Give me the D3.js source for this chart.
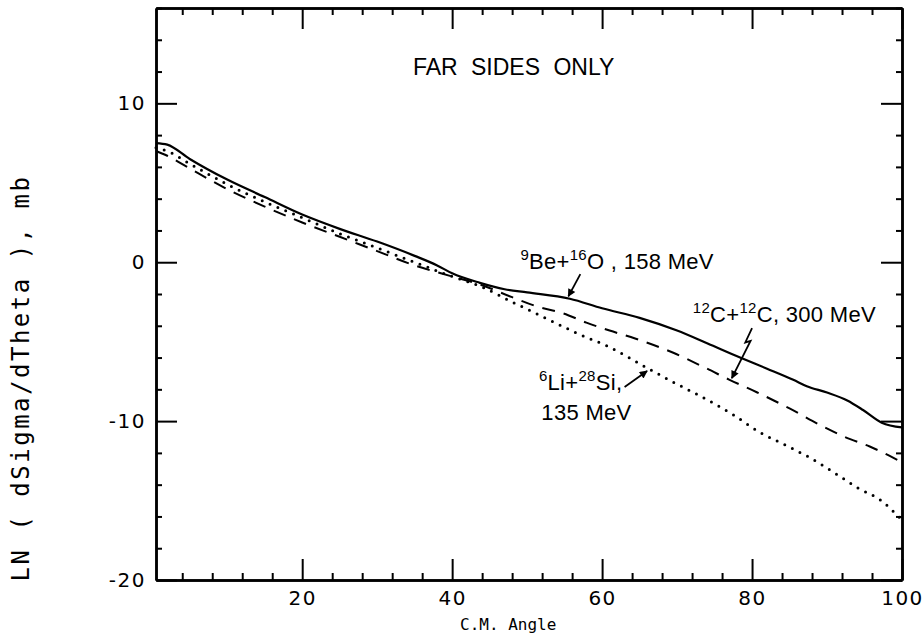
<!DOCTYPE html>
<html>
<head>
<meta charset="utf-8">
<script src="https://cdn.jsdelivr.net/npm/d3@7/dist/d3.min.js"></script>
<style>
  html, body { margin: 0; padding: 0; background: #fff; }
  svg { display: block; }
  .tick text { font-family: "DejaVu Sans", sans-serif; font-size: 20px; letter-spacing: 1.5px; fill: #000; }
  .ann { font-family: "Liberation Sans", Arial, sans-serif; font-size: 22px; letter-spacing: 0.3px; fill: #000; }
</style>
</head>
<body>
<svg id="chart" width="924" height="638"></svg>
<script>
// ---------------- data ----------------
const xMajorTicks = [20, 40, 60, 80, 100];
const xMinorTicks = [4, 8, 12, 16, 24, 28, 32, 36, 44, 48, 52, 56, 64, 68, 72, 76, 84, 88, 92, 96];
const yMajorTicks = [-20, -10, 0, 10];
const yMinorTicks = [-18, -16, -14, -12, -8, -6, -4, -2, 2, 4, 6, 8, 12, 14, 16];

// 9Be + 16O, 158 MeV (solid)
const beAngles = [0.5, 2, 5, 10, 15, 20, 25, 30, 35, 38, 40, 43.7, 47, 50, 55.7, 60, 65, 70, 74, 78.4, 82, 85.5, 87.3, 90, 92.7, 94.8, 97.3, 100];
const beValues = [7.5, 7.4, 6.5, 5.2, 4.1, 3.0, 2.1, 1.3, 0.4, -0.2, -0.7, -1.3, -1.7, -1.9, -2.3, -2.9, -3.5, -4.3, -5.1, -6.0, -6.7, -7.4, -7.8, -8.2, -8.7, -9.3, -10.1, -10.4];

// 12C + 12C, 300 MeV (dashed)
const cAngles = [0.5, 2, 5, 10, 15, 20, 25, 30, 35, 40, 43.7, 48, 51.4, 54.7, 57.9, 61, 64.4, 69.5, 74, 77, 80.7, 85, 89.3, 92.4, 95.7, 98.8, 100];
const cValues = [7.0, 6.7, 5.9, 4.6, 3.5, 2.5, 1.6, 0.7, -0.2, -0.9, -1.4, -2.2, -2.8, -3.2, -3.8, -4.3, -4.8, -5.7, -6.7, -7.4, -8.2, -9.2, -10.3, -11.0, -11.6, -12.3, -12.6];

// 6Li + 28Si, 135 MeV (dotted)
const liAngles = [0.5, 2, 5, 10, 15, 20, 25, 30, 35, 40, 43.7, 48, 52.4, 56.8, 60.8, 66, 69.3, 73, 77.5, 81, 84.4, 87.7, 90.8, 94.1, 97.5, 99.3, 100];
const liValues = [7.2, 7.0, 6.2, 4.9, 3.8, 2.8, 1.8, 0.9, 0.0, -0.9, -1.5, -2.5, -3.5, -4.5, -5.3, -6.65, -7.5, -8.4, -9.6, -10.7, -11.5, -12.3, -13.2, -14.2, -15.1, -15.9, -16.2];

// ---------------- layout ----------------
const svg = d3.select("#chart");
const L = 156, R = 902, T = 8, B = 580;
const x = d3.scaleLinear().domain([0.5, 100]).range([L, R]);
const y = d3.scaleLinear().domain([-20, 16]).range([B, T]);

const fmt = d => String(d);

function styleAxis(g) {
  g.select(".domain").attr("stroke", "#000").attr("stroke-width", 2.5);
  g.selectAll(".tick line").attr("stroke", "#000").attr("stroke-width", 2);
}

// bottom
svg.append("g").attr("transform", `translate(0,${B})`)
  .call(d3.axisBottom(x).tickValues(xMinorTicks).tickSize(-7).tickSizeOuter(0).tickFormat(""))
  .call(styleAxis);
svg.append("g").attr("transform", `translate(0,${B})`)
  .call(d3.axisBottom(x).tickValues(xMajorTicks).tickSize(-21).tickSizeOuter(0).tickPadding(11).tickFormat(fmt))
  .call(styleAxis);
// top
svg.append("g").attr("transform", `translate(0,${T})`)
  .call(d3.axisTop(x).tickValues(xMinorTicks).tickSize(-7).tickSizeOuter(0).tickFormat(""))
  .call(styleAxis);
svg.append("g").attr("transform", `translate(0,${T})`)
  .call(d3.axisTop(x).tickValues(xMajorTicks).tickSize(-21).tickSizeOuter(0).tickFormat(""))
  .call(styleAxis);
// left
svg.append("g").attr("transform", `translate(${L},0)`)
  .call(d3.axisLeft(y).tickValues(yMinorTicks).tickSize(-6).tickSizeOuter(0).tickFormat(""))
  .call(styleAxis);
svg.append("g").attr("transform", `translate(${L},0)`)
  .call(d3.axisLeft(y).tickValues(yMajorTicks).tickSize(-21).tickSizeOuter(0).tickPadding(10).tickFormat(fmt))
  .call(styleAxis);
// right
svg.append("g").attr("transform", `translate(${R},0)`)
  .call(d3.axisRight(y).tickValues(yMinorTicks).tickSize(-6).tickSizeOuter(0).tickFormat(""))
  .call(styleAxis);
svg.append("g").attr("transform", `translate(${R},0)`)
  .call(d3.axisRight(y).tickValues(yMajorTicks).tickSize(-21).tickSizeOuter(0).tickFormat(""))
  .call(styleAxis);

// ---------------- curves ----------------
const line = d3.line().x(d => x(d[0])).y(d => y(d[1])).curve(d3.curveMonotoneX);
const zip = (a, b) => a.map((v, i) => [v, b[i]]);

svg.append("path").datum(zip(liAngles, liValues))
  .attr("d", line).attr("fill", "none").attr("stroke", "#000")
  .attr("stroke-width", 3).attr("stroke-linecap", "round").attr("stroke-dasharray", "0,8.5");
svg.append("path").datum(zip(cAngles, cValues))
  .attr("d", line).attr("fill", "none").attr("stroke", "#000")
  .attr("stroke-width", 2).attr("stroke-dasharray", "13,9");
svg.append("path").datum(zip(beAngles, beValues))
  .attr("d", line).attr("fill", "none").attr("stroke", "#000")
  .attr("stroke-width", 2.2);

// ---------------- texts ----------------
svg.append("text")
  .attr("x", x(48.2)).attr("y", y(11.8))
  .attr("text-anchor", "middle")
  .style("font-family", "'Liberation Sans', Arial, sans-serif").style("font-size", "23px")
  .style("word-spacing", "7px")
  .text("FAR SIDES ONLY");

svg.append("text")
  .attr("x", 460).attr("y", 630)
  .style("font-family", "'DejaVu Sans Mono', monospace").style("font-size", "16px")
  .text("C.M. Angle");

svg.append("text")
  .attr("transform", `translate(29,378) rotate(-90)`)
  .attr("text-anchor", "middle")
  .style("font-family", "'DejaVu Sans Mono', monospace").style("font-size", "24px")
  .style("letter-spacing", "2.5px")
  .text("LN ( dSigma/dTheta ), mb");

// annotation labels with superscripts
function label(px, py, parts, anchor) {
  const t = svg.append("text").attr("class", "ann").attr("x", px).attr("y", py)
    .attr("text-anchor", anchor || "start");
  let up = false;
  parts.forEach(p => {
    const sup = p[1];
    const ts = t.append("tspan").text(p[0]);
    if (sup && !up) { ts.attr("dy", -9).style("font-size", "15px"); up = true; }
    else if (sup) { ts.style("font-size", "15px"); }
    else if (!sup && up) { ts.attr("dy", 9); up = false; }
  });
  return t;
}

label(x(49.1), y(-0.4), [["9", true], ["Be+", false], ["16", true], ["O , 158 MeV", false]]);
label(x(72.1), y(-3.75), [["12", true], ["C+", false], ["12", true], ["C, 300 MeV", false]]);
label(x(62.7), y(-8.05), [["6", true], ["Li+", false], ["28", true], ["Si,", false]], "end");
label(x(51.9), y(-9.9), [["135 MeV", false]], "start");

// arrows
const defs = svg.append("defs");
defs.append("marker").attr("id", "ah").attr("viewBox", "0 0 10 10")
  .attr("refX", 9).attr("refY", 5).attr("markerWidth", 10).attr("markerHeight", 8)
  .attr("markerUnits", "userSpaceOnUse").attr("orient", "auto")
  .append("path").attr("d", "M0,0 L10,5 L0,10 Z").attr("fill", "#000");

const aline = d3.line().x(d => x(d[0])).y(d => y(d[1]));

svg.append("path").datum([[57.1, -0.75], [55.5, -2.15]])
  .attr("d", aline).attr("stroke", "#000").attr("stroke-width", 1.8).attr("fill", "none")
  .attr("marker-end", "url(#ah)");

svg.append("path").datum([[80.0, -4.15], [79.1, -5.05], [79.8, -4.95], [77.3, -7.3]])
  .attr("d", aline).attr("stroke", "#000").attr("stroke-width", 1.8).attr("fill", "none")
  .attr("marker-end", "url(#ah)");

svg.append("path").datum([[63.0, -7.85], [66.0, -6.85]])
  .attr("d", aline).attr("stroke", "#000").attr("stroke-width", 1.8).attr("fill", "none")
  .attr("marker-end", "url(#ah)");
</script>
</body>
</html>
